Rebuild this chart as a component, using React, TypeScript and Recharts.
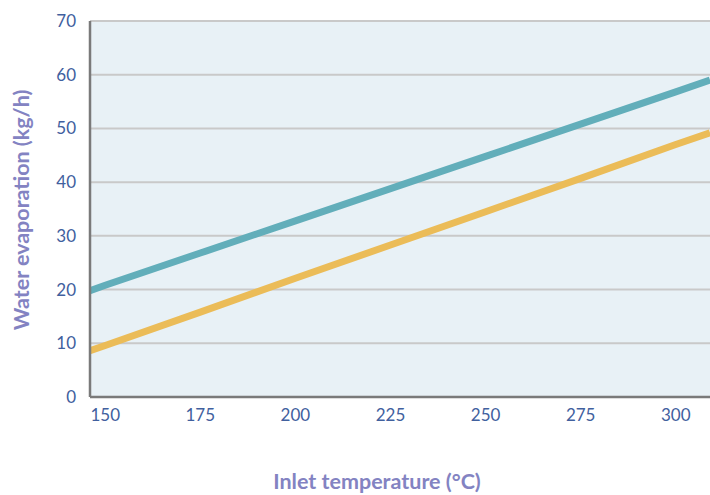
import React from "react";
import { LineChart, Line, XAxis, YAxis, CartesianGrid } from "recharts";

// inlet temperature (°C) at which values were read
const temps = [146, 150, 175, 200, 225, 250, 275, 300, 309];
// water evaporation (kg/h), upper teal line
const upperSeries = [19.8, 20.8, 26.8, 32.8, 38.8, 44.8, 50.8, 56.8, 59.0];
// water evaporation (kg/h), lower orange line
const lowerSeries = [8.6, 9.6, 15.8, 22.1, 28.3, 34.5, 40.7, 47.0, 49.2];

const xTicks = [150, 175, 200, 225, 250, 275, 300];
const yTicks = [0, 10, 20, 30, 40, 50, 60, 70];

const data = temps.map((t, i) => ({ t, upper: upperSeries[i], lower: lowerSeries[i] }));

const tickStyle = { fill: "#41609e", fontSize: 17, fontFamily: "Lato" };
const titleStyle: React.CSSProperties = {
  position: "absolute",
  color: "#8383c2",
  fontFamily: "Lato",
  fontWeight: 700,
  fontSize: 21.5,
  lineHeight: 1,
  whiteSpace: "nowrap",
};

export default function App() {
  return (
    <div style={{ position: "absolute", left: 0, top: 0, width: 710, height: 495, background: "#fff" }}>
      <LineChart width={710} height={495} data={data} margin={{ top: 21, right: 0, left: 0, bottom: 68 }}>
        <CartesianGrid vertical={false} stroke="#c9c9c9" strokeWidth={2} fill="#e8f1f6" />
        <XAxis
          dataKey="t"
          type="number"
          domain={[146, 309]}
          ticks={xTicks}
          allowDataOverflow
          height={30}
          tickLine={false}
          tickMargin={6}
          axisLine={{ stroke: "#7a7a7a", strokeWidth: 2.5 }}
          tick={tickStyle}
        />
        <YAxis
          domain={[0, 70]}
          ticks={yTicks}
          width={90}
          tickLine={false}
          tickMargin={8}
          axisLine={{ stroke: "#7a7a7a", strokeWidth: 2.5 }}
          tick={tickStyle}
        />
        <Line dataKey="upper" stroke="#62aeba" strokeWidth={7} dot={false} isAnimationActive={false} />
        <Line dataKey="lower" stroke="#ebbc58" strokeWidth={7} dot={false} isAnimationActive={false} />
      </LineChart>
      <div style={{ ...titleStyle, left: 377, top: 482, transform: "translate(-50%, -50%)" }}>
        Inlet temperature (°C)
      </div>
      <div style={{ ...titleStyle, left: 22, top: 210, transform: "translate(-50%, -50%) rotate(-90deg)" }}>
        Water evaporation (kg/h)
      </div>
    </div>
  );
}
